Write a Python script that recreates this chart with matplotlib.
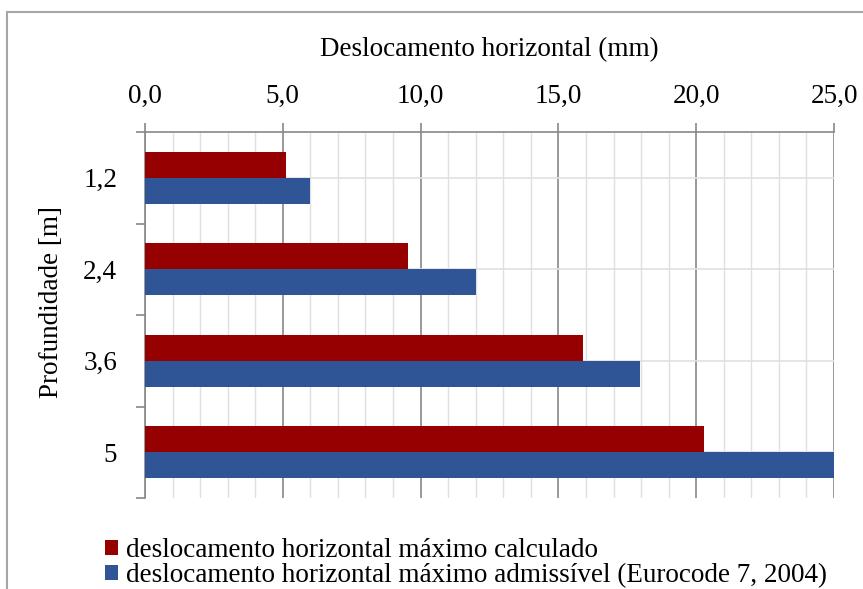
import matplotlib
matplotlib.use("Agg")
import matplotlib.pyplot as plt
from matplotlib.patches import Rectangle
import numpy as np

categories = ["1,2", "2,4", "3,6", "5"]
calculado = [5.1, 9.55, 15.9, 20.3]
admissivel = [6.0, 12.0, 17.95, 25.0]
xticks = [0, 5, 10, 15, 20, 25]
xticklabels = ["0,0", "5,0", "10,0", "15,0", "20,0", "25,0"]
series_names = ["deslocamento horizontal máximo calculado",
                "deslocamento horizontal máximo admissível (Eurocode 7, 2004)"]
red = "#960000"
blue = "#2F5597"

plt.rcParams['font.family'] = ['Liberation Serif', 'DejaVu Serif']
FS = 19.5

fig = plt.figure(figsize=(8.63, 5.89), dpi=100)
# outer frame
fig.patches.append(Rectangle((7/863, -0.1), 1.2, 1 - 12/589 + 0.1, transform=fig.transFigure,
                             fill=False, edgecolor="#a6a6a6", linewidth=1.5))

ax = fig.add_axes([145/863, 1 - 498/589, (834 - 145)/863, (498 - 132)/589])
y = np.arange(len(categories))
h = 0.285
ax.barh(y - h/2, calculado, height=h, color=red, label=series_names[0], zorder=3)
ax.barh(y + h/2, admissivel, height=h, color=blue, label=series_names[1], zorder=3)

ax.set_xlim(0, 25)
ax.set_ylim(3.5, -0.5)
ax.xaxis.tick_top()
ax.xaxis.set_label_position('top')
ax.set_xticks(xticks)
ax.set_xticklabels(xticklabels, fontsize=FS)
ax.set_xticks(np.arange(0, 26, 1), minor=True)
ax.set_yticks(y)
ax.set_yticklabels(categories, fontsize=FS)
ax.set_yticks(np.arange(-0.5, 4.0, 1), minor=True)
ax.tick_params(axis='y', which='major', length=0, pad=20)
ax.tick_params(axis='y', which='minor', length=6.5, width=1.2, color="#888888", left=True)
ax.tick_params(axis='x', which='major', length=6.5, width=1.2, color="#888888", pad=10, top=True)
ax.tick_params(axis='x', which='minor', length=0, top=False)
ax.grid(axis='x', which='major', color="#888888", linewidth=1.2, zorder=0)
ax.grid(axis='x', which='minor', color="#e0e0e0", linewidth=1.0, zorder=0)
ax.grid(axis='y', which='major', color="#e0e0e0", linewidth=1.2, zorder=0)
ax.set_axisbelow(True)
for s in ['right', 'bottom']:
    ax.spines[s].set_visible(False)
for s in ['top', 'left']:
    ax.spines[s].set_color("#888888")
    ax.spines[s].set_linewidth(1.2)

ax.set_xlabel("Deslocamento horizontal (mm)", fontsize=FS, labelpad=20)
ax.set_ylabel("Profundidade [m]", fontsize=FS, labelpad=14, y=0.535)

fig.legend(loc='lower left', bbox_to_anchor=(94/863, -10/589), frameon=False, fontsize=FS,
           handlelength=0.5, handleheight=0.5, handletextpad=0.3, labelspacing=0.0,
           borderaxespad=0)

fig.savefig("out.png", dpi=100)
